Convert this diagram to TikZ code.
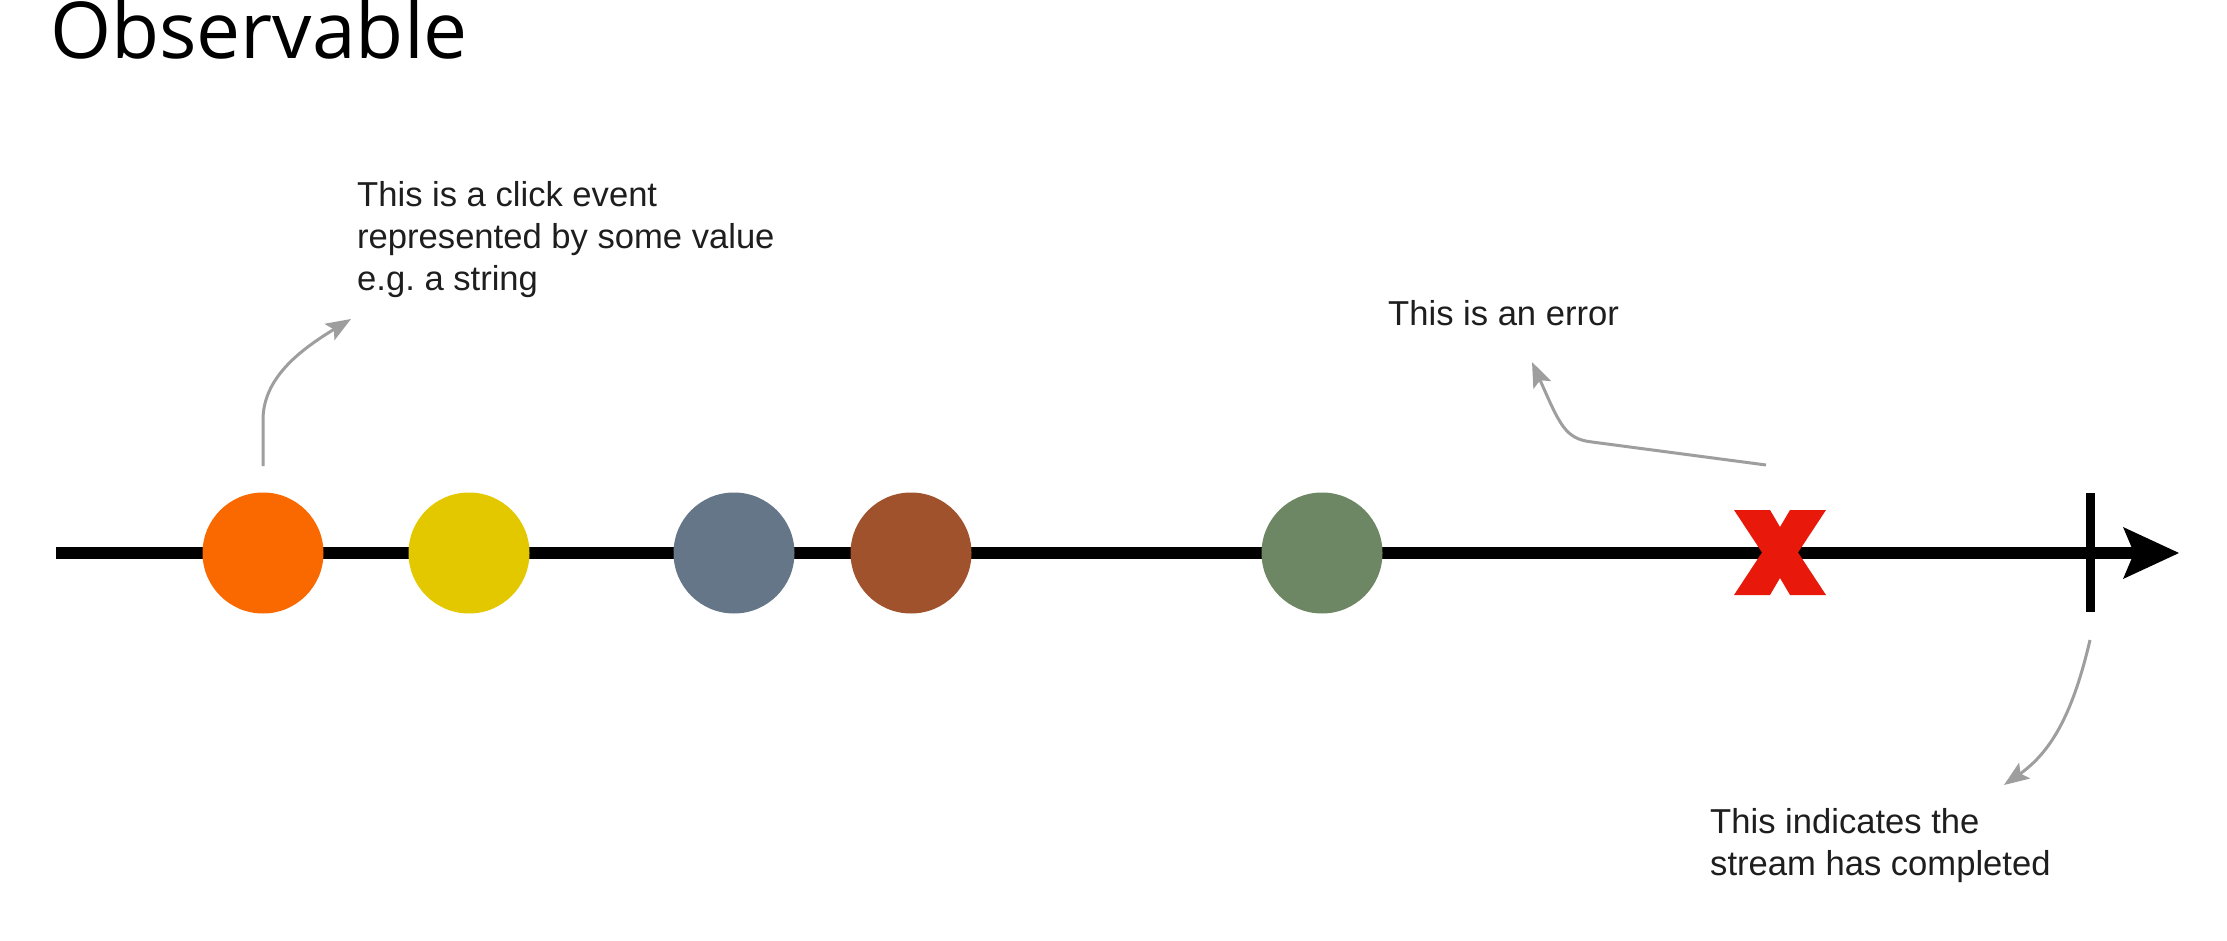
\documentclass[tikz,border=0pt]{standalone}
\usepackage{fontspec}
\setmainfont{Liberation Sans}
\newfontfamily\titlefont{Open Sans}
\usetikzlibrary{arrows.meta}
\frenchspacing
\definecolor{evorange}{HTML}{FA6800}
\definecolor{evyellow}{HTML}{E3C800}
\definecolor{evblue}{HTML}{647687}
\definecolor{evbrown}{HTML}{A0522D}
\definecolor{evgreen}{HTML}{6D8764}
\definecolor{everr}{HTML}{E8190B}
\definecolor{notegray}{HTML}{9E9E9E}
\definecolor{txt}{HTML}{1E1E1E}
\tikzset{
  ev/.style={circle, minimum size=121pt, inner sep=0pt, draw=none},
  note/.style={inner sep=0pt, align=left, text=txt, font=\fontsize{34.6}{42}\selectfont},
  callout/.style={draw=notegray, line width=3pt, -{Stealth[length=25pt,width=19pt,inset=5pt]}},
}
\begin{document}
\begin{tikzpicture}[x=1pt,y=-1pt]
\useasboundingbox[fill=white] (0,0) rectangle (2227,941);
% title
\node[anchor=base west, inner sep=0pt, font=\titlefont\fontsize{78.5}{90}\selectfont] (title) at (50,59) {Observable};
% time line
\coordinate (ls) at (56,553);
\coordinate (le) at (2135,553);
\draw[line width=12pt] (ls) -- (le);
\fill (2123,527) -- (2179,553) -- (2123,579) -- (2134,553) -- cycle;
% events
\node[ev, fill=evorange] (e1) at (263,553) {};
\node[ev, fill=evyellow] (e2) at (469,553) {};
\node[ev, fill=evblue]   (e3) at (734,553) {};
\node[ev, fill=evbrown]  (e4) at (911,553) {};
\node[ev, fill=evgreen]  (e5) at (1322,553) {};
% error mark
\fill[everr] (1734,510) -- (1770,510) -- (1780,527) -- (1790,510) -- (1826,510) -- (1798,552.5)
  -- (1826,595) -- (1790,595) -- (1780,578) -- (1770,595) -- (1734,595) -- (1762,552.5) -- cycle;
\coordinate (err) at (1780,553);
% completion bar
\coordinate (ct) at (2090,493);
\coordinate (cb) at (2090,612);
\draw[line width=9pt] (ct) -- (cb);
% notes
\node[note, anchor=north west] (n1) at (357,181) {This is a click event\\represented by some value\\e.g. a string};
\node[note, anchor=base west] (n2) at (1388,325) {This is an error};
\node[note, anchor=north west] (n3) at (1710,808) {This indicates the\\stream has completed};
% callouts
\coordinate (a1s) at (263,466);
\coordinate (a1e) at (351,319);
\draw[callout] (a1s) -- (263,420) .. controls (263,378) and (300,350) .. (a1e);
\coordinate (a2s) at (1766,465);
\coordinate (a2e) at (1532,362);
\draw[callout] (a2s) -- (1592,442) .. controls (1565,439) and (1560,425) .. (a2e);
\coordinate (a3s) at (2090,640);
\coordinate (a3e) at (2004,785);
\draw[callout] (a3s) .. controls (2074,708) and (2054,750) .. (a3e);
\end{tikzpicture}
\end{document}
